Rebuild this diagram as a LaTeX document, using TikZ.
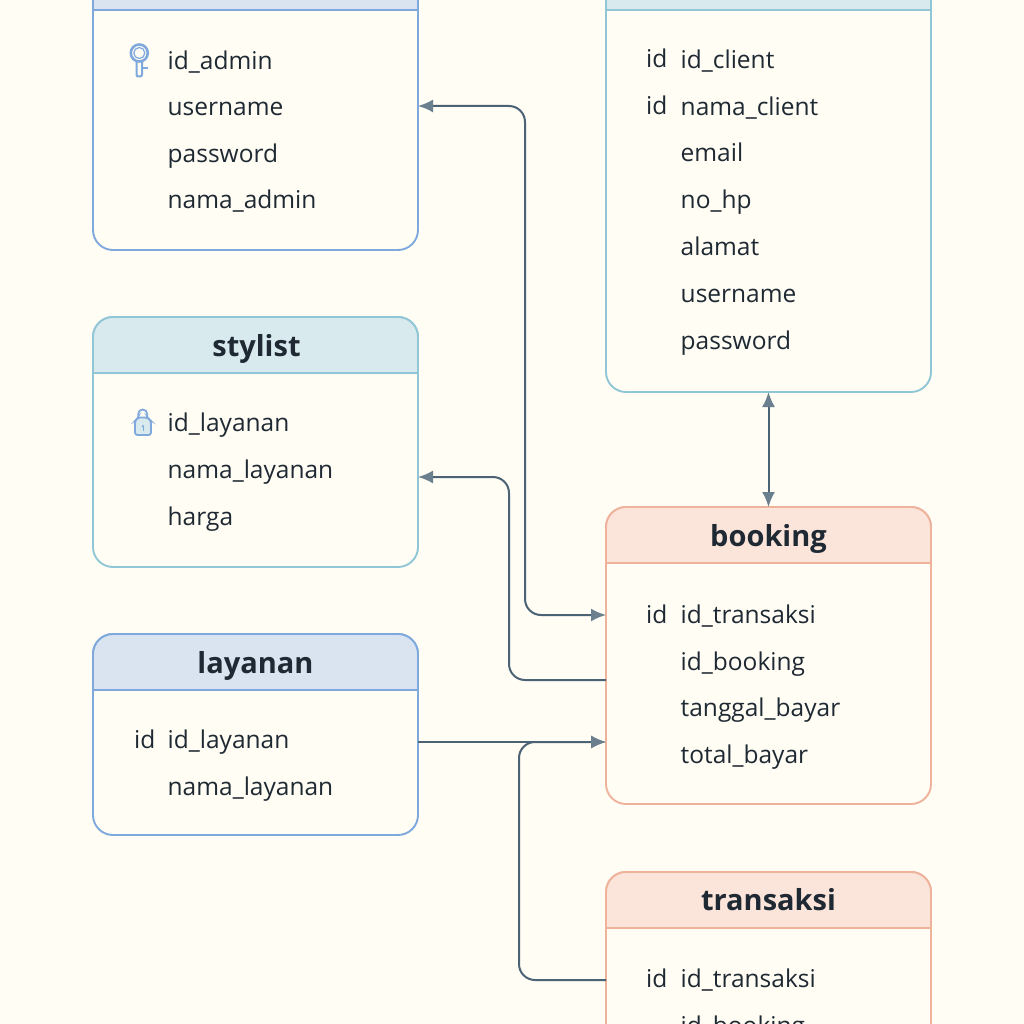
\documentclass[tikz,border=0pt]{standalone}
\usepackage{fontspec}
\setmainfont{Open Sans}
\usetikzlibrary{arrows.meta}

\definecolor{paper}{HTML}{FFFDF4}
\definecolor{lineblue}{HTML}{7FA8DC}
\definecolor{headblue}{HTML}{DAE4F1}
\definecolor{lineteal}{HTML}{90C6D6}
\definecolor{headteal}{HTML}{D9EAEE}
\definecolor{lineorange}{HTML}{EFB29B}
\definecolor{headorange}{HTML}{FBE4DA}
\definecolor{linkcolor}{HTML}{4C6275}
\definecolor{tipcolor}{HTML}{6B808F}
\definecolor{inkcolor}{HTML}{1F2933}

\newcommand{\headband}[3]{
  \draw[draw=#2,fill=#3,line width=1.9pt] ([yshift=-56pt]#1.north west)
    [rounded corners=20pt] -- (#1.north west) -- (#1.north east)
    [sharp corners] -- ([yshift=-56pt]#1.north east) -- cycle;
}

\begin{document}
\begin{tikzpicture}[x=1pt,y=-1pt,>={Latex[length=15pt,width=13pt,color=tipcolor]},
    table node/.style={rectangle,draw,line width=1.9pt,rounded corners=20pt,fill=paper,
      minimum width=325pt,inner sep=0pt,outer sep=0pt},
    title node/.style={anchor=base,font=\fontsize{29}{32}\selectfont\bfseries,text=inkcolor,inner sep=0pt},
    field node/.style={anchor=base west,font=\fontsize{24.5}{28}\selectfont,text=inkcolor,inner sep=0pt},
    link/.style={draw=linkcolor,line width=2pt,rounded corners=16pt}]

  \clip (0,0) rectangle (1024,1024);
  \fill[paper] (0,0) rectangle (1024,1024);

  % tables
  \node[table node,draw=lineblue,minimum height=296pt] (admin) at (255.5,102) {};
  \node[table node,draw=lineteal,minimum height=250pt] (stylist) at (255.5,442) {};
  \node[table node,draw=lineblue,minimum height=201pt] (layanan) at (255.5,734.5) {};
  \node[table node,draw=lineteal,minimum height=438pt] (client) at (768.5,173) {};
  \node[table node,draw=lineorange,minimum height=297pt] (booking) at (768.5,655.5) {};
  \node[table node,draw=lineorange,minimum height=300pt] (transaksi) at (768.5,1022) {};

  \headband{admin}{lineblue}{headblue}
  \headband{stylist}{lineteal}{headteal}
  \headband{layanan}{lineblue}{headblue}
  \headband{client}{lineteal}{headteal}
  \headband{booking}{lineorange}{headorange}
  \headband{transaksi}{lineorange}{headorange}

  \node[title node] (stylisttitle) at (256.5,356) {stylist};
  \node[title node] (layanantitle) at (255.5,673) {layanan};
  \node[title node] (bookingtitle) at (768.5,546) {booking};
  \node[title node] (transaksititle) at (768.5,910) {transaksi};

  % admin fields
  \node[field node] (a1) at (167.5,69.5) {id\_admin};
  \node[field node] (a2) at (167.5,115.5) {username};
  \node[field node] (a3) at (167.5,162.5) {password};
  \node[field node] (a4) at (167.5,208.5) {nama\_admin};

  % stylist fields
  \node[field node] (s1) at (167.5,431) {id\_layanan};
  \node[field node] (s2) at (167.5,478) {nama\_layanan};
  \node[field node] (s3) at (167.5,525) {harga};

  % layanan fields
  \node[field node] (l0) at (134,748) {id};
  \node[field node] (l1) at (167.5,748) {id\_layanan};
  \node[field node] (l2) at (167.5,795) {nama\_layanan};

  % client fields
  \node[field node] (c0) at (646,67.5) {id};
  \node[field node] (c1) at (680.5,69) {id\_client};
  \node[field node] (c00) at (646,115) {id};
  \node[field node] (c2) at (680.5,116) {nama\_client};
  \node[field node] (c3) at (680.5,162) {email};
  \node[field node] (c4) at (680.5,209) {no\_hp};
  \node[field node] (c5) at (680.5,255.5) {alamat};
  \node[field node] (c6) at (680.5,302) {username};
  \node[field node] (c7) at (680.5,349) {password};

  % booking fields
  \node[field node] (b0) at (646,623) {id};
  \node[field node] (b1) at (680.5,623) {id\_transaksi};
  \node[field node] (b2) at (680.5,670) {id\_booking};
  \node[field node] (b3) at (680.5,716) {tanggal\_bayar};
  \node[field node] (b4) at (680.5,763) {total\_bayar};

  % transaksi fields
  \node[field node] (t0) at (646,987) {id};
  \node[field node] (t1) at (680.5,987) {id\_transaksi};
  \node[field node] (t2) at (680.5,1034) {id\_booking};

  % key and lock
  \draw[lineblue,line width=2.6pt] (139.3,53) circle (8.5);
  \draw[lineblue,line width=1.2pt] (139.3,53) circle (5.5);
  \draw[lineblue,line width=2pt,rounded corners=2pt]
    (136.5,62) -- (136.5,76.5) -- (142,76.5) -- (142,62);
  \draw[lineblue,line width=1.8pt] (142,68) -- (148,68);
  \draw[lineblue,line width=1.8pt] (138.2,420) -- (138.2,414) arc (180:360:4.5) -- (147.2,420);
  \draw[lineblue,line width=1.8pt,fill=headteal,rounded corners=2.5pt]
    (135,435) -- (135,421) -- (138,417.5) -- (147.5,417.5) -- (151,421) -- (151,435) -- cycle;
  \draw[lineblue,line width=0.9pt,-{Latex[length=2.5pt,width=3pt]}] (143,431) -- (143,424.5);

  % anchors of the connectors
  \coordinate (adminin) at (admin.east |- 0,106);
  \coordinate (stylistin) at (stylist.east |- 0,477);
  \coordinate (layananout) at (layanan.east |- 0,742);
  \coordinate (bookingadmin) at (booking.west |- 0,615);
  \coordinate (bookingstylist) at (booking.west |- 0,680);
  \coordinate (bookinglayanan) at (booking.west |- 0,742);
  \coordinate (transaksiout) at (transaksi.west |- 0,980);

  % connectors
  \draw[link,<->] (adminin) -- (525,106) -- (525,615) -- (bookingadmin);
  \draw[link,<-] (stylistin) -- (509,477) -- (509,680) -- (bookingstylist);
  \draw[link,->] (layananout) -- (bookinglayanan);
  \draw[link,->] (transaksiout) -- (519,980) -- (519,742) -- (bookinglayanan);
  \draw[link,<->] (client.south) -- (booking.north);
\end{tikzpicture}
\end{document}
